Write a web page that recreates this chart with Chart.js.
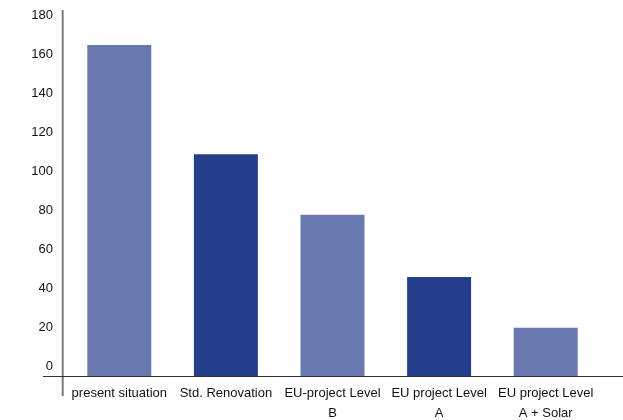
<!DOCTYPE html>
<html lang="en">
<head>
<meta charset="UTF-8">
<title>Energy demand</title>
<script src="https://cdn.jsdelivr.net/npm/chart.js@4.4.0/dist/chart.umd.min.js"></script>
<style>
    body { margin: 0; background: #fff; }
    .wrap { width: 623px; height: 420px; }
</style>
</head>
<body>
<div class="wrap"><canvas id="energyChart"></canvas></div>
<script>
    var categories = [
        'present situation',
        'Std. Renovation',
        ['EU-project Level', 'B'],
        ['EU project Level', 'A'],
        ['EU project Level', 'A + Solar']
    ];
    var values = [165, 109, 78, 46, 20];
    var yTicks = [0, 20, 40, 60, 80, 100, 120, 140, 160, 180];
    var yMin = -4.8, yMax = 183;

    var lightBlue = '#6879b0';
    var darkBlue = '#253f8c';
    var fontFamily = "'Liberation Sans', Arial, sans-serif";

    // axis lines are drawn by hand: the y line runs past the x line like in the original
    var axisLines = {
        id: 'axisLines',
        afterDraw: function(chart) {
            var ctx = chart.ctx, area = chart.chartArea;
            var yBase = chart.scales.y.getPixelForValue(yMin);
            ctx.save();
            ctx.strokeStyle = '#7a7a7a';
            ctx.lineWidth = 2;
            ctx.beginPath();
            ctx.moveTo(area.left - 3.3, area.top);
            ctx.lineTo(area.left - 3.3, yBase + 20);
            ctx.stroke();
            ctx.strokeStyle = '#333';
            ctx.lineWidth = 1;
            ctx.beginPath();
            ctx.moveTo(43, yBase + 0.5);
            ctx.lineTo(chart.width, yBase + 0.5);
            ctx.stroke();
            ctx.restore();
        }
    };

    new Chart(document.getElementById('energyChart'), {
        type: 'bar',
        data: {
            labels: categories,
            datasets: [{
                data: values,
                base: yMin,
                backgroundColor: values.map(function(v, i) { return i % 2 ? darkBlue : lightBlue; }),
                barPercentage: 0.6,
                categoryPercentage: 1
            }]
        },
        options: {
            responsive: true,
            maintainAspectRatio: false,
            animation: false,
            layout: { padding: { top: 10, right: 24, left: 0, bottom: 0 } },
            plugins: { legend: { display: false }, tooltip: { enabled: false } },
            scales: {
                x: {
                    grid: { display: false, drawTicks: false },
                    border: { display: false },
                    ticks: {
                        font: { family: fontFamily, size: 13, lineHeight: 1.55 },
                        color: '#111', padding: 7, maxRotation: 0, autoSkip: false
                    },
                    afterFit: function(scale) { scale.height = 44; }
                },
                y: {
                    min: yMin,
                    max: yMax,
                    grid: { display: false, drawTicks: false },
                    border: { display: false },
                    ticks: {
                        font: { family: fontFamily, size: 13, lineHeight: 1.2 },
                        color: '#111', padding: 13
                    },
                    afterBuildTicks: function(scale) {
                        scale.ticks = yTicks.map(function(v) { return { value: v }; });
                    },
                    afterFit: function(scale) {
                        scale.width = 66;
                        // tick padding should only push labels sideways, not shrink the plot
                        scale.paddingTop = 0;
                        scale.paddingBottom = 0;
                    }
                }
            }
        },
        plugins: [axisLines]
    });
</script>
</body>
</html>
